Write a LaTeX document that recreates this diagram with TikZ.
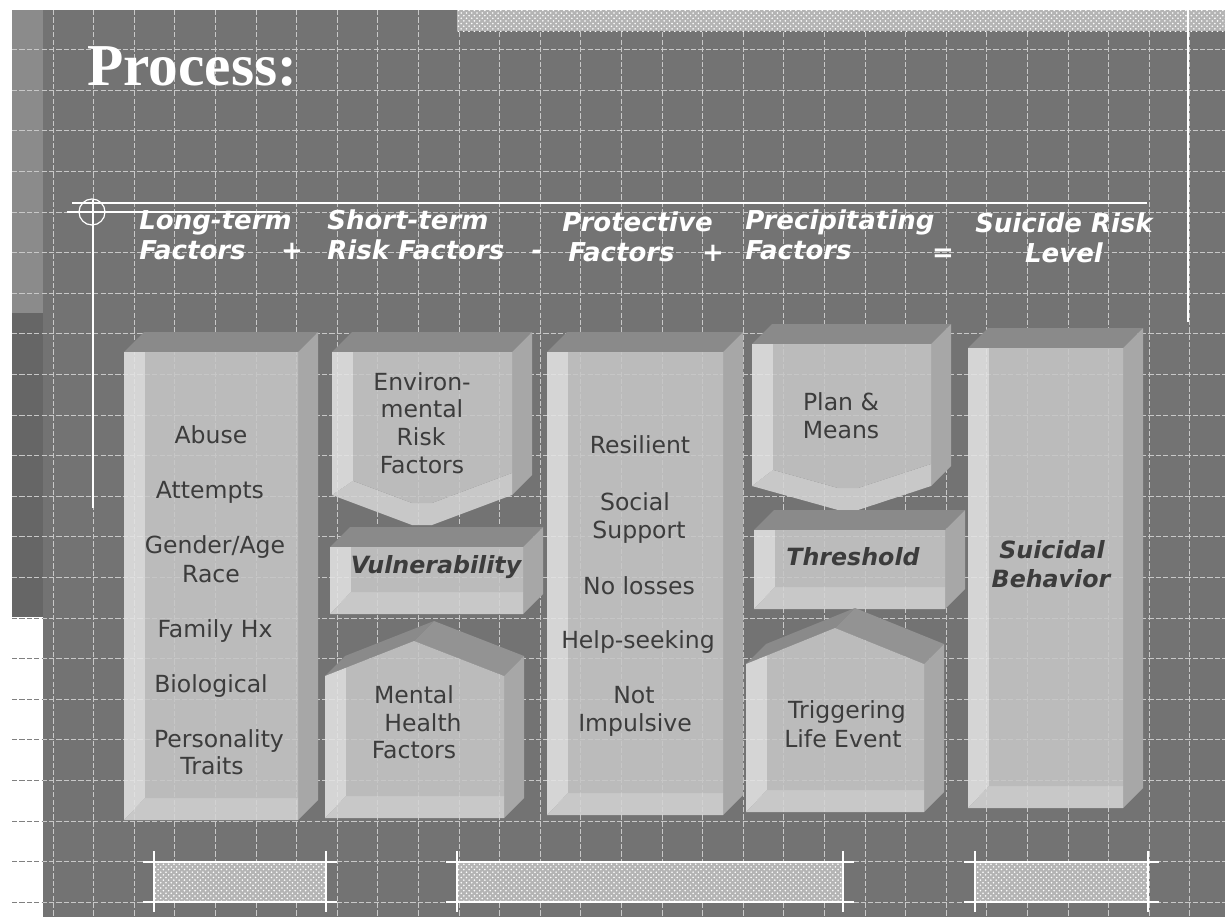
\documentclass[tikz,border=0pt]{standalone}
\usepackage{fontspec}
\setmainfont{Liberation Serif}
\setsansfont{DejaVu Sans}
\usetikzlibrary{patterns}

\definecolor{slidegray}{HTML}{737373}
\definecolor{stripgray}{HTML}{8B8B8B}
\definecolor{stripdark}{HTML}{666666}
\definecolor{gridline}{HTML}{C8C8C8}
\definecolor{topgray}{HTML}{8A8A8A}
\definecolor{roofgray}{HTML}{939393}
\definecolor{sidegray}{HTML}{A7A7A7}
\definecolor{facegray}{HTML}{C6C6C6}
\definecolor{bevellight}{HTML}{E3E3E3}
\definecolor{bevelbottom}{HTML}{D4D4D4}
\definecolor{inkgray}{HTML}{3C3C3C}
\definecolor{hatchgray}{HTML}{B4B4B4}

\tikzset{
  gridln/.style={gridline, line width=0.5pt, dash pattern=on 3pt off 1.2pt},
  topface/.style={fill=topgray},
  roofface/.style={fill=roofgray},
  sideface/.style={fill=sidegray},
  frontface/.style={fill=facegray},
  leftbevel/.style={fill=bevellight},
  lowbevel/.style={fill=bevelbottom},
  hatchbar/.style={fill=hatchgray, postaction={pattern=crosshatch dots, pattern color=white}},
  rule/.style={white, line width=1pt},
  head/.style={white, font=\sffamily\bfseries\itshape\fontsize{14.8}{17}\selectfont, inner sep=0pt},
  item/.style={inkgray, font=\sffamily\fontsize{13.4}{16}\selectfont, inner sep=0pt, anchor=base},
  keyword/.style={inkgray, font=\sffamily\bfseries\itshape\fontsize{13.5}{16}\selectfont, inner sep=0pt, anchor=base},
}

% block with straight bottom: x1, x2, top, bottom
\newcommand{\plainbox}[4]{%
  \fill[topface] (#1,#3) -- (#1+20,#3-20) -- (#2+20,#3-20) -- (#2,#3) -- cycle;
  \fill[sideface] (#2,#3) -- (#2+20,#3-20) -- (#2+20,#4-20) -- (#2,#4) -- cycle;
  \begin{scope}[transparency group, opacity=.88]
    \fill[lowbevel] (#1,#4) -- (#1+21,#4-22) -- (#2,#4-22) -- (#2,#4) -- cycle;
    \fill[leftbevel] (#1,#3) -- (#1+21,#3) -- (#1+21,#4-22) -- (#1,#4) -- cycle;
    \fill[frontface] (#1+21,#3) rectangle (#2,#4-22);
  \end{scope}}

% block pointing down: x1, x2, top, side bottom, tip x, tip y
\newcommand{\chevbox}[6]{%
  \fill[topface] (#1,#3) -- (#1+20,#3-20) -- (#2+20,#3-20) -- (#2,#3) -- cycle;
  \fill[sideface] (#2,#3) -- (#2+20,#3-20) -- (#2+20,#4-20) -- (#2,#4) -- cycle;
  \begin{scope}[transparency group, opacity=.88]
    \fill[lowbevel] (#1,#4) -- (#5-10,#6) -- (#5+10,#6) -- (#2,#4) -- (#2,#4-22)
      -- (#5+10,#6-22) -- (#5-10,#6-22) -- ({#1+21},{#4+21*(#6-#4)/(#5-10-#1)-22}) -- cycle;
    \fill[leftbevel] (#1,#3) -- (#1+21,#3) -- ({#1+21},{#4+21*(#6-#4)/(#5-10-#1)-22}) -- (#1,#4) -- cycle;
    \fill[frontface] (#1+21,#3) -- (#2,#3) -- (#2,#4-22) -- (#5+10,#6-22) -- (#5-10,#6-22)
      -- ({#1+21},{#4+21*(#6-#4)/(#5-10-#1)-22}) -- cycle;
  \end{scope}}

% block with a roof: x1, x2, eave, peak x, peak y, bottom
\newcommand{\housebox}[6]{%
  \fill[topface] (#1,#3) -- (#4,#5) -- (#4+20,#5-20) -- (#1+20,#3-20) -- cycle;
  \fill[roofface] (#4,#5) -- (#2,#3) -- (#2+20,#3-20) -- (#4+20,#5-20) -- cycle;
  \fill[sideface] (#2,#3) -- (#2+20,#3-20) -- (#2+20,#6-20) -- (#2,#6) -- cycle;
  \begin{scope}[transparency group, opacity=.88]
    \fill[lowbevel] (#1,#6) -- (#1+21,#6-22) -- (#2,#6-22) -- (#2,#6) -- cycle;
    \fill[leftbevel] (#1,#3) -- ({#1+21},{#3-21*(#3-#5)/(#4-#1)}) -- (#1+21,#6-22) -- (#1,#6) -- cycle;
    \fill[frontface] ({#1+21},{#3-21*(#3-#5)/(#4-#1)}) -- (#4,#5) -- (#2,#3) -- (#2,#6-22) -- (#1+21,#6-22) -- cycle;
  \end{scope}}

% hatched bar at the foot
\newcommand{\footbar}[2]{%
  \fill[hatchbar] (#1,862) rectangle (#2,902);
  \draw[rule] (#1-11,862) -- (#2+11,862);
  \draw[rule] (#1-11,902) -- (#2+11,902);
  \draw[rule] (#1,851) -- (#1,912);
  \draw[rule] (#2,851) -- (#2,912);}

\begin{document}
\begin{tikzpicture}[x=0.02cm, y=-0.02cm]
    \useasboundingbox (0,0) rectangle (1225,917);
    \fill[white] (0,0) rectangle (1225,917);
    \fill[slidegray] (43,10) rectangle (1225,917);
    \fill[stripgray] (12,10) rectangle (43,313);
    \fill[stripdark] (12,313) rectangle (43,617);

    % grid
    \foreach \k in {0,...,28}
      \draw[gridln] (53+40.6*\k,10) -- (53+40.6*\k,917);
    \foreach \k in {0,...,21}
      \draw[gridln] (12,49.6+40.6*\k) -- (1225,49.6+40.6*\k);
    \foreach \k in {14,...,21}
      \draw[gridln, draw=gray] (12,49.6+40.6*\k) -- (43,49.6+40.6*\k);

    \fill[hatchbar] (457,10) rectangle (1225,31);
    \draw[rule] (1188,10) -- (1188,322);

    \node[white, font=\bfseries\fontsize{33.8}{38}\selectfont, anchor=base west, inner sep=0pt] (title) at (87,85) {Process:};

    % header rule
    \draw[white, line width=1.6pt] (72,203) -- (1147,203);
    \draw[rule, line width=.7pt] (67,212) -- (280,212);
    \draw[rule, line width=.7pt] (92,212) circle[radius=0.26cm];
    \draw[rule, line width=.7pt] (93,200) -- (93,508);

    \node[head, anchor=base west] (lt1) at (139,229) {Long-term};
    \node[head, anchor=base west] (lt2) at (139,259) {Factors};
    \node[head, anchor=base] (plus1) at (292,259) {+};
    \node[head, anchor=base west] (st1) at (327,229) {Short-term};
    \node[head, anchor=base west] (st2) at (327,259) {Risk Factors};
    \node[head, anchor=base] (minus1) at (537,259) {-};
    \node[head, anchor=base west] (pf1) at (562,231) {Protective};
    \node[head, anchor=base west] (pf2) at (568,261) {Factors};
    \node[head, anchor=base] (plus2) at (713,261) {+};
    \node[head, anchor=base west] (pr1) at (745,229) {Precipitating};
    \node[head, anchor=base west] (pr2) at (745,259) {Factors};
    \node[head, anchor=base] (eq) at (943,261) {=};
    \node[head, anchor=base] (sr1) at (1064,232) {Suicide Risk};
    \node[head, anchor=base] (sr2) at (1064,262) {Level};

    % blocks
    \plainbox{124}{298}{352}{820}
    \chevbox{332}{512}{352}{495}{422}{525}
    \plainbox{330}{523}{547}{614}
    \housebox{325}{504}{676}{414}{641}{818}
    \plainbox{547}{723}{352}{815}
    \chevbox{752}{931}{344}{486}{848}{510}
    \plainbox{754}{945}{530}{609}
    \housebox{746}{924}{664}{835}{628}{812}
    \plainbox{968}{1123}{348}{808}

    \node[item] (abuse) at (211,443) {Abuse};
    \node[item] (attempts) at (210,498) {Attempts};
    \node[item] (gender) at (215,553) {Gender/Age};
    \node[item] (race) at (211,582) {Race};
    \node[item] (family) at (215,637) {Family Hx};
    \node[item] (bio) at (211,692) {Biological};
    \node[item] (pers) at (219,747) {Personality};
    \node[item] (traits) at (212,774) {Traits};

    \node[item] (env1) at (422,390) {Environ-};
    \node[item] (env2) at (422,417) {mental};
    \node[item] (env3) at (421,445) {Risk};
    \node[item] (env4) at (422,473) {Factors};
    \node[keyword] (vuln) at (436,573) {Vulnerability};
    \node[item] (mh1) at (414,703) {Mental};
    \node[item] (mh2) at (423,731) {Health};
    \node[item] (mh3) at (414,758) {Factors};

    \node[item] (resil) at (640,453) {Resilient};
    \node[item] (soc1) at (635,510) {Social};
    \node[item] (soc2) at (639,538) {Support};
    \node[item] (loss) at (639,594) {No losses};
    \node[item] (help) at (638,648) {Help-seeking};
    \node[item] (imp1) at (634,703) {Not};
    \node[item] (imp2) at (635,731) {Impulsive};

    \node[item] (plan1) at (841,410) {Plan \&};
    \node[item] (plan2) at (841,438) {Means};
    \node[keyword] (thresh) at (853,565) {Threshold};
    \node[item] (trig1) at (847,718) {Triggering};
    \node[item] (trig2) at (843,747) {Life Event};

    \node[keyword] (sb1) at (1052,558) {Suicidal};
    \node[keyword] (sb2) at (1051,587) {Behavior};

    % hatched bars below
    \footbar{154}{326}
    \footbar{457}{843}
    \footbar{975}{1148}
\end{tikzpicture}
\end{document}
